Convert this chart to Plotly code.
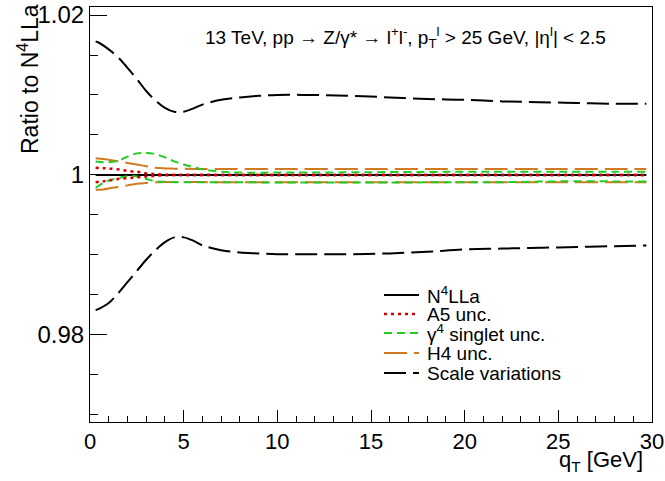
import plotly.graph_objects as go

# ---------------- data ----------------
q_scale = [0.3, 0.5, 1, 1.5, 2, 2.5, 3, 3.5, 4, 4.5, 5, 5.5, 6, 7, 8, 9, 10, 12, 14, 16, 18, 20, 22, 24, 26, 28, 29.7]
scale_up = [1.0167, 1.0165, 1.0157, 1.0147, 1.0134, 1.0120, 1.0105, 1.0093, 1.0084, 1.0079, 1.0079, 1.0083, 1.0088,
            1.0094, 1.0097, 1.0099, 1.0100, 1.0100, 1.0099, 1.0097, 1.0095, 1.0094, 1.0092, 1.0091, 1.0090, 1.0089, 1.0089]
scale_dn = [0.9831, 0.9833, 0.9840, 0.9852, 0.9866, 0.9880, 0.9894, 0.9906, 0.9916, 0.9922, 0.9922, 0.9918, 0.9912,
            0.9906, 0.9903, 0.9902, 0.9901, 0.9901, 0.9901, 0.9902, 0.9904, 0.9907, 0.9908, 0.9909, 0.9910, 0.9911, 0.9912]

q_unc = [0.3, 0.7, 1, 1.5, 2, 2.5, 3, 3.5, 4, 4.5, 5, 5.5, 6, 7, 8, 10, 12, 15, 18, 20, 22, 25, 28, 29.7]
h4_up = [1.0021, 1.0020, 1.0019, 1.0017, 1.0015, 1.0013, 1.0011, 1.0009, 1.00082, 1.00079, 1.00077, 1.00076, 1.00076,
         1.00076, 1.00076, 1.00076, 1.00076, 1.00076, 1.00076, 1.00076, 1.00076, 1.00076, 1.00076, 1.00076]
h4_dn = [0.99815, 0.9982, 0.9983, 0.9985, 0.9987, 0.9989, 0.9990, 0.99908, 0.99912, 0.99913, 0.99913, 0.99912, 0.99911,
         0.9991, 0.9991, 0.9991, 0.9991, 0.9991, 0.9991, 0.9991, 0.9991, 0.9991, 0.9991, 0.9991]
a5_up = [1.0009, 1.00085, 1.0008, 1.0007, 1.0005, 1.0004, 1.0002, 1.0001, 1.00003, 1.00001, 1.0, 1.0, 1.0,
         1.0, 1.0, 1.0, 1.0, 1.0, 1.0, 1.0, 1.0, 1.0, 1.0, 1.0]
a5_dn = [0.9991, 0.9992, 0.9993, 0.9995, 0.9996, 0.9997, 0.9998, 0.9999, 0.99997, 0.99999, 1.0, 1.0, 1.0,
         1.0, 1.0, 1.0, 1.0, 1.0, 1.0, 1.0, 1.0, 1.0, 1.0, 1.0]
g4_up = [1.0017, 1.0016, 1.0016, 1.0018, 1.0023, 1.0027, 1.00275, 1.0026, 1.0022, 1.0017, 1.0013, 1.0010, 1.0007,
         1.0004, 1.0003, 1.0003, 1.0003, 1.00035, 1.00038, 1.0004, 1.0004, 1.0004, 1.0004, 1.0004]
g4_dn = [0.9984, 0.9990, 0.9993, 0.9996, 0.99985, 0.9998, 0.9995, 0.9992, 0.99915, 0.9991, 0.9991, 0.9991, 0.9991,
         0.9991, 0.9991, 0.99905, 0.99905, 0.99905, 0.99908, 0.9991, 0.9991, 0.9992, 0.9992, 0.9992]

q_central = [0.3, 29.7]
central = [1.0, 1.0]

x_ticks = [0, 5, 10, 15, 20, 25, 30]
y_ticks = [0.98, 1.0, 1.02]
y_tick_text = ["0.98", "1", "1.02"]

legend_names = ["N<sup>4</sup>LLa", "A5 unc.", "γ<sup>4</sup> singlet unc.", "H4 unc.", "Scale variations"]

BLACK = "#000000"
RED = "#d40000"
GREEN = "#22cc22"
ORANGE = "#d27a22"
FONT = "Liberation Sans, Arial, sans-serif"

DASH_SCALE = "22px,7px"
DASH_H4 = "23px,7px"
DASH_G4 = "8px,5px"
DASH_A5 = "3px,4px"

fig = go.Figure()

def add(x, y, color, dash, width):
    fig.add_trace(go.Scatter(x=x, y=y, mode="lines", showlegend=False, hoverinfo="skip",
                             line=dict(color=color, dash=dash, width=width, shape="spline", smoothing=1.0)))

add(q_central, central, BLACK, "solid", 2)
add(q_scale, scale_up, BLACK, DASH_SCALE, 2)
add(q_scale, scale_dn, BLACK, DASH_SCALE, 2)
add(q_unc, h4_up, ORANGE, DASH_H4, 2)
add(q_unc, h4_dn, ORANGE, DASH_H4, 2)
add(q_unc, g4_up, GREEN, DASH_G4, 2)
add(q_unc, g4_dn, GREEN, DASH_G4, 2)
add(q_unc, a5_up, RED, DASH_A5, 2.5)
add(q_unc, a5_dn, RED, DASH_A5, 2.5)

fig.update_layout(
    width=665, height=481,
    margin=dict(l=90, r=13, t=7, b=59),
    paper_bgcolor="white", plot_bgcolor="white",
    font=dict(family=FONT, size=20, color="black"),
    showlegend=False,
    xaxis=dict(range=[0, 30], showgrid=False, zeroline=False, showline=True, linecolor="black",
               linewidth=1, mirror=True, ticks="inside", ticklen=12, tickcolor="black",
               tickvals=x_ticks, ticktext=[str(v) for v in x_ticks],
               tickfont=dict(size=22), automargin=False,
               minor=dict(ticks="inside", ticklen=6, dtick=1, tickcolor="black", showgrid=False)),
    yaxis=dict(range=[0.96912, 1.021], showgrid=False, zeroline=False, showline=True, linecolor="black",
               linewidth=1, mirror=True, ticks="inside", ticklen=17, tickcolor="black",
               tickvals=y_ticks, ticktext=y_tick_text, tickfont=dict(size=24), automargin=False,
               minor=dict(ticks="inside", ticklen=8, tick0=0.97, dtick=0.005, tickcolor="black", showgrid=False)),
)

# manual legend (pixel geometry converted to paper coords)
PL, PW, PB, PH = 90, 562, 422, 415
def px(x):
    return (x - PL) / PW
def py(y):
    return (PB - y) / PH

legend_styles = [(BLACK, "solid", 2), (RED, DASH_A5, 2.5), (GREEN, DASH_G4, 2), (ORANGE, DASH_H4, 2), (BLACK, DASH_SCALE, 2)]
rows = [295, 314, 333, 353, 373]
for name, (col, dash, w), r in zip(legend_names, legend_styles, rows):
    fig.add_shape(type="line", xref="paper", yref="paper", x0=px(384), x1=px(419), y0=py(r), y1=py(r),
                  line=dict(color=col, dash=dash, width=w))
    fig.add_annotation(xref="paper", yref="paper", x=px(425), y=py(r), xanchor="left", yanchor="middle",
                       text=name, showarrow=False, font=dict(size=19))

fig.add_annotation(xref="paper", yref="paper", x=px(405), y=py(37), xanchor="center", yanchor="middle",
                   text="13 TeV, pp → Z/γ* → l<sup>+</sup>l<sup>-</sup>, p<sub>T</sub><sup>l</sup> > 25 GeV, |η<sup>l</sup>| < 2.5",
                   showarrow=False, font=dict(size=19))
fig.add_annotation(xref="paper", yref="paper", x=px(645), y=py(445), xanchor="right", yanchor="top",
                   text="q<sub>T</sub> [GeV]", showarrow=False, font=dict(size=22))
fig.add_annotation(xref="paper", yref="paper", x=px(28), y=py(2), xanchor="center", yanchor="top",
                   text="Ratio to N<sup>4</sup>LLa", textangle=-90, showarrow=False, font=dict(size=23))

fig.write_html("out.html", post_script="document.body.style.margin='0px';",
               config={"displayModeBar": False})
